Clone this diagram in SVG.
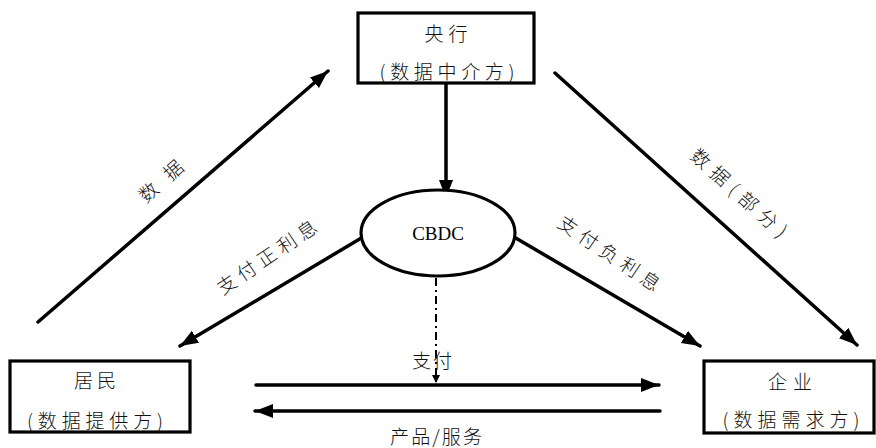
<svg xmlns="http://www.w3.org/2000/svg" width="876" height="448" viewBox="0 0 876 448">
<style>
.box{fill:#fff;stroke:#000;stroke-width:3.2}
.ln{stroke:#000;stroke-width:3.5;fill:none;stroke-linecap:round}
.t{font-family:"Noto Sans CJK SC","Noto Sans",sans-serif;font-size:19px;fill:#111;text-anchor:middle;dominant-baseline:central;font-weight:300}
.en{font-family:"Liberation Serif",serif;font-size:19px;fill:#000;text-anchor:middle;dominant-baseline:central}
</style>
<defs>
<marker id="ah" markerUnits="userSpaceOnUse" markerWidth="20" markerHeight="16" refX="18" refY="7" orient="auto">
<path d="M0,0 L18,7 L0,14 Z" fill="#000"/>
</marker>
<marker id="ahs" markerUnits="userSpaceOnUse" markerWidth="10" markerHeight="10" refX="8" refY="4" orient="auto">
<path d="M0,0 L8,4 L0,8 Z" fill="#000"/>
</marker>
</defs>
<g id="connectors">
<line class="ln" x1="446" y1="84" x2="446" y2="198" marker-end="url(#ah)"/>
<line class="ln" x1="38" y1="322" x2="328" y2="71" marker-end="url(#ah)"/>
<line class="ln" x1="555" y1="73" x2="857" y2="345" marker-end="url(#ah)"/>
<line class="ln" x1="363" y1="237" x2="180" y2="346" marker-end="url(#ah)"/>
<line class="ln" x1="514" y1="237" x2="700" y2="346" marker-end="url(#ah)"/>
<line x1="436" y1="278" x2="436" y2="383" stroke="#000" stroke-width="2" stroke-dasharray="8,4,2,4" marker-end="url(#ahs)"/>
<line class="ln" x1="256" y1="385" x2="659" y2="385" marker-end="url(#ah)"/>
<line class="ln" x1="660" y1="411" x2="255" y2="411" marker-end="url(#ah)"/>
<text class="t" x="160" y="180" transform="rotate(-42 160 180)" font-size="20" textLength="52" lengthAdjust="spacing">数据</text>
<text class="t" x="740" y="192" transform="rotate(42 740 192)" font-size="20" textLength="122" lengthAdjust="spacing">数据(部分)</text>
<text class="t" x="266" y="256" transform="rotate(-34 266 256)" font-size="20" textLength="116" lengthAdjust="spacing">支付正利息</text>
<text class="t" x="610" y="252" transform="rotate(34 610 252)" font-size="20" textLength="118" lengthAdjust="spacing">支付负利息</text>
<text class="t" x="432" y="359" textLength="40" lengthAdjust="spacing">支付</text>
<text class="t" x="436" y="435" textLength="92" lengthAdjust="spacing">产品/服务</text>
</g>
<g id="central-bank">
<rect class="box" x="358" y="13" width="176" height="70"/>
<text class="t" x="446" y="32" textLength="43" lengthAdjust="spacing">央行</text>
<text class="t" x="447" y="70" textLength="135" lengthAdjust="spacing">(数据中介方)</text>
</g>
<g id="cbdc">
<ellipse cx="438" cy="233" rx="77" ry="43" fill="#fff" stroke="#000" stroke-width="3.2"/>
<text class="en" x="438" y="233">CBDC</text>
</g>
<g id="residents">
<rect class="box" x="10" y="361" width="180" height="71"/>
<text class="t" x="95" y="379" textLength="42" lengthAdjust="spacing">居民</text>
<text class="t" x="95" y="419" textLength="136" lengthAdjust="spacing">(数据提供方)</text>
</g>
<g id="enterprise">
<rect class="box" x="704" y="361" width="170" height="72"/>
<text class="t" x="790" y="380" textLength="44" lengthAdjust="spacing">企业</text>
<text class="t" x="791" y="418" textLength="137" lengthAdjust="spacing">(数据需求方)</text>
</g>
</svg>
